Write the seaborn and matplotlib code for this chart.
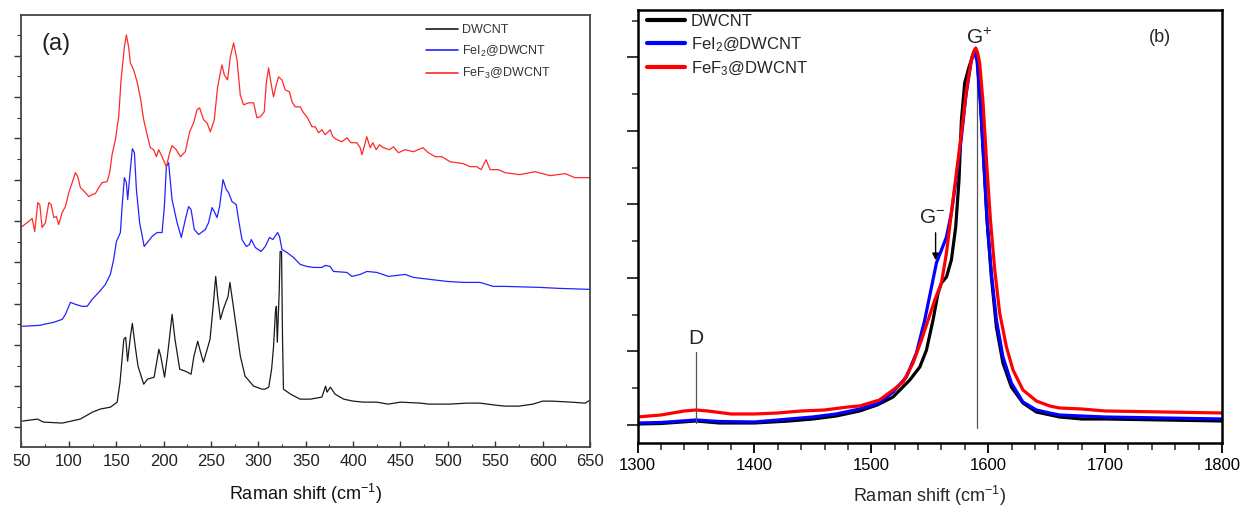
import numpy as np
import pandas as pd
import matplotlib
matplotlib.use("Agg")
import matplotlib.pyplot as plt
from matplotlib.ticker import MultipleLocator
import seaborn as sns

# ---------------------------------------------------------------- data
SAMPLES = ["DWCNT", "FeI$_2$@DWCNT", "FeF$_3$@DWCNT"]

# (a) low-frequency region (RBM), stacked spectra, arbitrary units
dw_a_shift = [51, 67, 73, 93, 112, 125, 133, 144, 151, 154,
              158, 160, 162, 165, 167, 170, 173, 179, 183, 190,
              195, 197, 201, 204, 209, 212, 217, 223, 229, 232,
              236, 239, 242, 246, 249, 252, 255, 257, 260, 263,
              268, 270, 273, 277, 281, 286, 295, 304, 307, 311,
              314, 316, 318, 319, 320, 322, 323, 324.5, 325.5, 326.5,
              334, 344, 355, 367, 371, 372.5, 376, 381, 390, 400,
              411, 425, 437, 450, 471, 480, 502, 520, 534, 550,
              560, 575, 590, 600, 610, 630, 645, 650]
dw_a_int = [26, 28, 25, 24, 28, 35, 38, 40, 45, 65,
            108, 110, 86, 111, 124, 101, 81, 63, 68, 70,
            98, 91, 70, 91, 133, 108, 78, 76, 73, 91,
            106, 95, 85, 98, 108, 138, 171, 151, 128, 138,
            151, 165, 145, 118, 91, 71, 61, 58, 58, 60,
            78, 100, 135, 141, 105, 155, 196, 196, 110, 58,
            53, 48, 48, 50, 61, 55, 60, 53, 48, 46,
            45, 45, 43, 45, 44, 43, 43, 44, 44, 42,
            41, 41, 43, 46, 46, 45, 44, 47]

fei_a_shift = [51, 70, 73.5, 84, 93, 96.4, 101.7, 107, 114, 119.3,
               124.6, 131.5, 138.6, 143.8, 147.3, 150.2, 154.4, 156.2, 158.6, 160.7,
               162.1, 164.2, 167, 169.2, 171.3, 174.7, 179.5, 187.8, 193.1, 198.4,
               200.8, 202.9, 205.3, 208.9, 214.2, 218.7, 222.9, 226.4, 229, 232.4,
               237, 244, 247.5, 251.1, 253.5, 256.4, 259.1, 262.7, 266.2, 268.6,
               272.2, 276.7, 279.1, 282.7, 287.3, 290.7, 292.5, 296.8, 302.8, 307.3,
               311.8, 315.4, 320.3, 322.4, 324.9, 330.2, 337.1, 344.2, 351.3, 358.2,
               367.1, 370.6, 375.8, 379.3, 393.5, 398.7, 407.5, 414.5, 425.1, 437.3,
               455, 463.7, 481.3, 499, 516.4, 534, 548, 560.4, 597, 618,
               650]
fei_a_int = [121, 122, 123, 125, 128, 133, 145, 143, 141, 141,
             148, 155, 163, 173, 188, 206, 215, 241, 270, 265,
             248, 271, 299, 295, 258, 225, 201, 211, 215, 215,
             241, 281, 285, 248, 225, 210, 228, 241, 238, 218,
             213, 218, 225, 240, 236, 230, 241, 268, 258, 255,
             246, 243, 228, 208, 201, 203, 208, 200, 196, 201,
             210, 208, 215, 211, 198, 195, 190, 183, 181, 180,
             180, 182, 181, 176, 175, 171, 173, 176, 175, 171,
             173, 170, 168, 166, 165, 165, 161, 161, 160, 159,
             158]

fef_a_shift = [50.7, 56, 61.3, 64, 67.2, 69.3, 71.8, 75.3, 78.8, 81.3,
               84.1, 86.9, 89.3, 92.9, 96.4, 99.9, 103.5, 106.9, 109.4, 112.2,
               117.5, 121, 124.6, 128, 131.5, 135.1, 140.4, 143.1, 145.6, 149.1,
               152.6, 155.1, 158.6, 160.7, 163.1, 164.9, 168.4, 172, 175.5, 179,
               182.6, 186, 189.5, 192.4, 194.8, 198.4, 202.9, 206.4, 208.9, 213.4,
               217.7, 222.9, 227.5, 231.7, 235.3, 238, 242.2, 245.8, 249.3, 253.5,
               257, 261.6, 264.1, 267.5, 270.4, 273.9, 277.5, 280.9, 284.4, 289.7,
               295, 298.5, 302, 306.2, 308.4, 310.8, 313.3, 316, 318.9, 321.3,
               324.9, 328.4, 332.9, 335.5, 338.9, 344.2, 347.7, 351.9, 356.6, 360,
               363.5, 367.1, 370.6, 375.8, 378.7, 382.9, 388.2, 393.5, 397.7, 404,
               407.5, 409.3, 411.7, 414.5, 418, 420.9, 424.4, 427.8, 432, 438.4,
               442.6, 447.9, 454.9, 463.7, 473.6, 479.5, 486.6, 493.6, 502.4, 509.4,
               516.4, 523.5, 530.5, 535.1, 540.3, 544.6, 553.3, 560.4, 576, 592,
               608, 624, 634, 650]
fef_a_int = [221, 225, 229, 216, 245, 243, 220, 225, 245, 243,
             230, 231, 223, 235, 241, 255, 265, 275, 271, 260,
             255, 251, 253, 254, 260, 265, 266, 275, 293, 308,
             331, 368, 401, 413, 401, 385, 378, 366, 350, 328,
             313, 300, 298, 291, 298, 291, 281, 295, 302, 298,
             291, 296, 316, 325, 338, 340, 328, 325, 316, 328,
             361, 383, 373, 368, 391, 405, 388, 353, 343, 345,
             345, 330, 331, 336, 365, 380, 365, 351, 363, 371,
             368, 358, 356, 346, 341, 341, 335, 330, 321, 321,
             315, 318, 313, 318, 311, 308, 306, 310, 305, 305,
             300, 293, 301, 311, 300, 305, 298, 303, 300, 298,
             301, 295, 298, 296, 300, 295, 291, 291, 286, 285,
             284, 281, 281, 278, 288, 278, 278, 275, 273, 276,
             272, 274, 270, 270]

# (b) D and G band region, arbitrary units
dw_b_shift = [1300, 1320, 1350, 1370, 1400, 1430, 1450, 1470, 1490, 1505,
              1518.6, 1532.9, 1541.5, 1547.2, 1552.8, 1557.1, 1560, 1564.3, 1568.5, 1572.2,
              1575, 1577.1, 1579.9, 1583.6, 1586.5, 1588.5, 1590.4, 1593.3, 1596.2, 1599,
              1602.7, 1607, 1612.6, 1619.8, 1629.7, 1641.2, 1661, 1680, 1700, 1750,
              1800]
dw_b_int = [1, 1.5, 4, 2, 2, 4, 6, 9, 14, 20,
            28, 45, 58, 75, 105, 132, 142, 148, 165, 198,
            245, 305, 342, 358, 368, 375, 368, 325, 265, 205,
            148, 98, 62, 38, 22, 13, 8, 6, 6, 5,
            4]

fei_b_shift = [1300, 1320, 1350, 1370, 1400, 1430, 1450, 1470, 1490, 1507,
               1518.6, 1530, 1538.6, 1545.7, 1551.5, 1555.7, 1560, 1564.3, 1568.5, 1572.8,
               1577.1, 1580.8, 1584.2, 1586.2, 1587.9, 1590.4, 1593.3, 1596.2, 1599, 1602.7,
               1607, 1612.6, 1619.8, 1629.7, 1641.2, 1652.6, 1661, 1680, 1700, 1750,
               1800]
fei_b_int = [2, 2.5, 5, 3.5, 3, 6, 8, 11, 16, 22,
             33, 48, 72, 105, 138, 162, 175, 188, 212, 248,
             288, 328, 355, 368, 373, 365, 322, 262, 205, 152,
             105, 68, 42, 23, 15, 12, 10, 9, 8, 7,
             6]

fef_b_shift = [1300, 1320, 1340, 1350, 1360, 1380, 1400, 1420, 1440, 1460,
               1480, 1490, 1507, 1518.6, 1527.2, 1535.7, 1542.9, 1548.6, 1554.3, 1560,
               1564.3, 1568.5, 1572.8, 1577.1, 1581.4, 1585.6, 1587.5, 1589.3, 1591, 1592.7,
               1595.6, 1598.5, 1601.9, 1605.6, 1609.8, 1615.6, 1621.2, 1629.7, 1641.2, 1652.6,
               1661, 1680, 1700, 1750, 1800]
fef_b_int = [8, 10, 14, 15, 14, 11, 11, 12, 14, 15,
             18, 19, 25, 35, 43, 62, 85, 105, 125, 142,
             172, 212, 252, 292, 335, 365, 373, 377, 372, 362,
             322, 265, 205, 155, 112, 78, 55, 35, 24, 19,
             17, 16, 14, 13, 12]


def long_frame(pairs):
    frames = []
    for name, (x, y) in zip(SAMPLES, pairs):
        frames.append(pd.DataFrame({"shift": x, "intensity": y, "sample": name}))
    return pd.concat(frames, ignore_index=True)


df_a = long_frame([(dw_a_shift, dw_a_int), (fei_a_shift, fei_a_int), (fef_a_shift, fef_a_int)])
df_b = long_frame([(dw_b_shift, dw_b_int), (fei_b_shift, fei_b_int), (fef_b_shift, fef_b_int)])

# ---------------------------------------------------------------- style
sns.set_style("ticks")
plt.rcParams["font.family"] = ["Liberation Sans", "DejaVu Sans"]
plt.rcParams["mathtext.fontset"] = "custom"
plt.rcParams["mathtext.rm"] = "Liberation Sans"
plt.rcParams["mathtext.it"] = "Liberation Sans:italic"
plt.rcParams["mathtext.bf"] = "Liberation Sans:bold"
plt.rcParams["mathtext.default"] = "regular"

pal_a = dict(zip(SAMPLES, ["#1a1a1a", "#2323ff", "#ff2a2a"]))
pal_b = dict(zip(SAMPLES, ["#000000", "#0000ff", "#ff0000"]))

fig = plt.figure(figsize=(12.42, 5.11), dpi=100)
ax_a = fig.add_axes([0.0173, 0.1252, 0.4577, 0.8454])
ax_b = fig.add_axes([0.5133, 0.1331, 0.4706, 0.8474])

# ---------------------------------------------------------------- panel (a)
sns.lineplot(data=df_a, x="shift", y="intensity", hue="sample", hue_order=SAMPLES,
             palette=pal_a, estimator=None, lw=0.9, ax=ax_a)
ax_a.set_xlim(50, 650)
ax_a.set_ylim(0, 433)
ax_a.xaxis.set_major_locator(MultipleLocator(50))
ax_a.xaxis.set_minor_locator(MultipleLocator(25))
ax_a.yaxis.set_major_locator(MultipleLocator(41.4, offset=61.0))
ax_a.yaxis.set_minor_locator(MultipleLocator(20.7, offset=40.3))
ax_a.tick_params(axis="x", which="major", direction="in", length=4, width=1,
                 labelsize=12, pad=5, colors="#333333", labelcolor="#222222")
ax_a.tick_params(axis="x", which="minor", direction="in", length=2.5, width=0.8, colors="#333333")
ax_a.tick_params(axis="y", which="major", direction="out", length=5, width=1,
                 labelleft=False, colors="#333333")
ax_a.tick_params(axis="y", which="minor", direction="out", length=3, width=0.8, colors="#333333")
for sp in ax_a.spines.values():
    sp.set_color("#444444")
    sp.set_linewidth(1.3)
ax_a.set_xlabel("Raman shift (cm$^{-1}$)", fontsize=13, labelpad=9, color="#111111")
ax_a.set_ylabel("")
ax_a.text(87, 404, "(a)", ha="center", va="center", fontsize=17, color="#222222")

h, l = ax_a.get_legend_handles_labels()
leg_a = ax_a.legend(h, l, loc="upper left", bbox_to_anchor=(0.711, 0.979), frameon=False,
                    fontsize=9, handlelength=2.6, handletextpad=0.3, labelspacing=0.6,
                    borderpad=0, borderaxespad=0)
for t in leg_a.get_texts():
    t.set_color("#333333")
for ln in leg_a.get_lines():
    ln.set_linewidth(1.2)

# ---------------------------------------------------------------- panel (b)
sns.lineplot(data=df_b, x="shift", y="intensity", hue="sample", hue_order=SAMPLES,
             palette=pal_b, estimator=None, lw=2.3, ax=ax_b)
ax_b.set_xlim(1300, 1800)
ax_b.set_ylim(-18, 415)
ax_b.xaxis.set_major_locator(MultipleLocator(100))
ax_b.xaxis.set_minor_locator(MultipleLocator(20))
ax_b.yaxis.set_major_locator(MultipleLocator(73.5))
ax_b.yaxis.set_minor_locator(MultipleLocator(36.75))
ax_b.tick_params(axis="x", which="major", direction="out", length=7, width=1.3,
                 labelsize=12, pad=4, colors="black")
ax_b.tick_params(axis="x", which="minor", direction="out", length=5, width=1.1)
ax_b.tick_params(axis="y", which="major", direction="out", length=8, width=1.3, labelleft=False)
ax_b.tick_params(axis="y", which="minor", direction="out", length=4, width=1.1)
for sp in ax_b.spines.values():
    sp.set_color("black")
    sp.set_linewidth(1.8)
ax_b.set_xlabel("Raman shift (cm$^{-1}$)", fontsize=13, labelpad=8)
ax_b.set_ylabel("")

# band markers
ax_b.plot([1350, 1350], [2, 73], color="#555555", lw=0.9)
ax_b.text(1350, 77, "D", ha="center", va="bottom", fontsize=15)
ax_b.plot([1590, 1590], [-3, 376], color="#555555", lw=0.9, zorder=1)
ax_b.text(1592, 377, "G$^{+}$", ha="center", va="bottom", fontsize=15)
ax_b.text(1552, 198, "G$^{-}$", ha="center", va="bottom", fontsize=15)
ax_b.annotate("", xy=(1555, 162), xytext=(1555, 195),
              arrowprops=dict(arrowstyle="-|>", color="black", lw=1, mutation_scale=10))
ax_b.text(1747, 387, "(b)", ha="center", va="center", fontsize=13)

h, l = ax_b.get_legend_handles_labels()
leg_b = ax_b.legend(h, l, loc="upper left", bbox_to_anchor=(0.016, 0.99), frameon=False,
                    fontsize=12, handlelength=2.3, handletextpad=0.35, labelspacing=0.35,
                    borderpad=0, borderaxespad=0)
for ln in leg_b.get_lines():
    ln.set_linewidth(3)

fig.savefig("out.png", dpi=100)
